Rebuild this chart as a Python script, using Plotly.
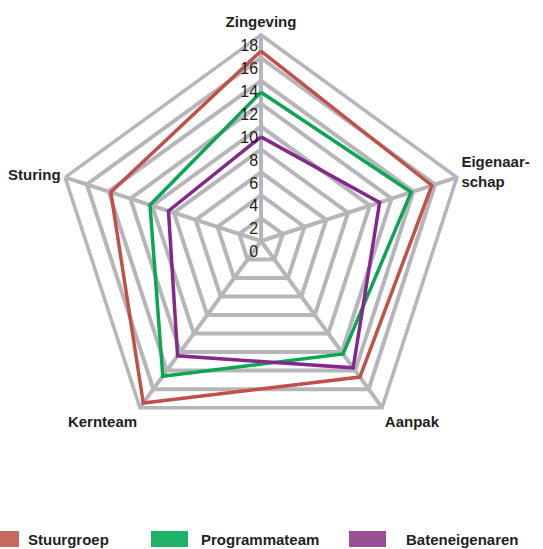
import plotly.graph_objects as go

categories = ["Zingeving", "Eigenaarschap", "Aanpak", "Kernteam", "Sturing"]
category_labels = ["Zingeving", "Eigenaar-<br>schap", "Aanpak", "Kernteam", "Sturing"]
stuurgroep = [16.6, 15.7, 14.7, 17.5, 13.8]
programmateam = [13.0, 13.8, 12.2, 14.6, 10.2]
bateneigenaren = [9.1, 10.9, 13.7, 12.4, 8.5]
radial_ticks = [0, 2, 4, 6, 8, 10, 12, 14, 16, 18]

series_names = ["Stuurgroep", "Programmateam", "Bateneigenaren"]
series_values = [stuurgroep, programmateam, bateneigenaren]
line_colors = ["#c0504a", "#0aa654", "#84288c"]
swatch_colors = ["#c76a5e", "#1fb26a", "#984f96"]

GRID = "#b6b6ba"
TEXT = "#231f20"
FONT = "Liberation Sans, Arial, Helvetica, sans-serif"

fig = go.Figure()
for name, vals, col in zip(series_names, series_values, line_colors):
    fig.add_trace(go.Scatterpolar(
        r=vals + vals[:1],
        theta=categories + categories[:1],
        mode="lines",
        name=name,
        line=dict(color=col, width=3.5),
        showlegend=False,
        hoverinfo="skip",
        subplot="polar",
    ))

# invisible helper trace so the label-only overlay subplot is drawn
fig.add_trace(go.Scatterpolar(r=[0], theta=categories[:1], mode="markers",
                              marker=dict(opacity=0), showlegend=False,
                              hoverinfo="skip", subplot="polar2"))

W, H = 543, 549
cx, cy, R = 261, 241, 206
label_drop = 11  # numbers sit slightly below their ring

def dom(dy):
    return dict(x=[(cx - R) / W, (cx + R) / W],
                y=[(H - cy - dy - R) / H, (H - cy - dy + R) / H])

fig.update_layout(
    width=W, height=H,
    margin=dict(l=0, r=0, t=0, b=0),
    paper_bgcolor="white",
    plot_bgcolor="white",
    font=dict(family=FONT, color=TEXT),
    showlegend=False,
    polar=dict(
        domain=dom(0),
        bgcolor="white",
        gridshape="linear",
        angularaxis=dict(
            direction="clockwise",
            rotation=90,
            tickmode="array",
            tickvals=categories,
            ticktext=["<b>%s</b>" % t for t in category_labels],
            tickfont=dict(size=15, family=FONT, color=TEXT),
            showline=True,
            linecolor=GRID,
            linewidth=3.5,
            showgrid=True,
            gridcolor=GRID,
            gridwidth=3.5,
            ticks="",
        ),
        radialaxis=dict(
            range=[0, 18],
            angle=90,
            tickmode="array",
            tickvals=radial_ticks,
            showticklabels=False,
            showline=False,
            showgrid=True,
            gridcolor=GRID,
            gridwidth=3.5,
            ticks="",
        ),
    ),
    polar2=dict(
        domain=dom(label_drop),
        bgcolor="rgba(0,0,0,0)",
        gridshape="linear",
        angularaxis=dict(
            direction="clockwise",
            rotation=90,
            tickvals=categories,
            showticklabels=False,
            showline=False,
            showgrid=False,
            ticks="",
        ),
        radialaxis=dict(
            range=[0, 18],
            angle=90,
            tickangle=90,
            tickmode="array",
            tickvals=radial_ticks,
            ticktext=[str(v) for v in radial_ticks],
            tickfont=dict(size=16, family=FONT, color=TEXT),
            showline=False,
            showgrid=False,
            ticks="",
            side="counterclockwise",
        ),
    ),
)

# legend drawn as swatches + labels along the bottom
legend_x = [-18, 151, 349]
text_x = [28, 201, 406]
for i, (name, col) in enumerate(zip(series_names, swatch_colors)):
    x0 = legend_x[i]
    fig.add_shape(type="rect", xref="paper", yref="paper",
                  x0=x0 / W, x1=(x0 + 37) / W, y0=(H - 547) / H, y1=(H - 531) / H,
                  fillcolor=col, line=dict(width=0))
    fig.add_annotation(xref="paper", yref="paper", x=text_x[i] / W, y=(H - 539) / H,
                       xanchor="left", yanchor="middle", showarrow=False, xshift=-2,
                       text="<b>%s</b>" % name, font=dict(size=15, family=FONT, color=TEXT))

fig.write_html("out.html", config={"displayModeBar": False},
               post_script="document.body.style.margin='0';document.body.style.overflow='hidden';")
